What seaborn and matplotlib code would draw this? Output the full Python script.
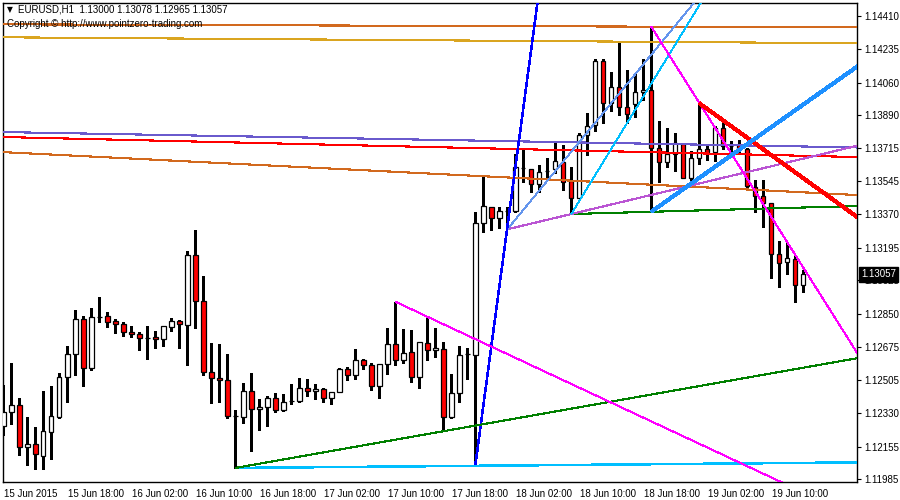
import numpy as np
import pandas as pd
import matplotlib
matplotlib.use('Agg')
import matplotlib.pyplot as plt
import matplotlib.transforms as mtransforms
import seaborn as sns

# EURUSD H1 candles, 15 Jun 10:00 .. 19 Jun 14:00
opens = [1.12264, 1.12334, 1.12372, 1.12154, 1.12168, 1.12107, 1.12233, 1.12311, 1.12517, 1.12638,
         1.12823, 1.12565, 1.12835, 1.12837, 1.12812, 1.12795, 1.12753, 1.12743, 1.12725, 1.12728,
         1.12716, 1.12779, 1.12811, 1.12790, 1.13156, 1.12915, 1.12544, 1.12514, 1.12502, 1.12316,
         1.12312, 1.12444, 1.12350, 1.12360, 1.12407, 1.12345, 1.12392, 1.12392, 1.12460, 1.12444,
         1.12455, 1.12407, 1.12439, 1.12559, 1.12528, 1.12606, 1.12580, 1.12470, 1.12585, 1.12690,
         1.12606, 1.12648, 1.12517, 1.12695, 1.12659, 1.12664, 1.12312, 1.12434, 1.12637, 1.12633,
         1.13323, 1.13407, 1.13350, 1.13389, 1.13389, 1.13614, 1.13609, 1.13528, 1.13599, 1.13606,
         1.13643, 1.13545, 1.13454, 1.13786, 1.13836, 1.14171, 1.13952, 1.14035, 1.13931, 1.13946,
         1.14009, 1.14021, 1.13716, 1.13646, 1.13685, 1.13739, 1.13562, 1.13664, 1.13711, 1.13698,
         1.13821, 1.13728, 1.13732, 1.13711, 1.13515, 1.13466, 1.13428, 1.13161, 1.13119, 1.13135,
         1.13000]
highs = [1.12477, 1.12591, 1.12407, 1.12311, 1.12256, 1.12446, 1.12473, 1.12542, 1.12681, 1.12870,
         1.12838, 1.12879, 1.12936, 1.12859, 1.12823, 1.12805, 1.12786, 1.12753, 1.12786, 1.12760,
         1.12786, 1.12826, 1.12817, 1.13176, 1.13288, 1.13048, 1.12697, 1.12692, 1.12639, 1.12345,
         1.12486, 1.12538, 1.12404, 1.12420, 1.12434, 1.12432, 1.12481, 1.12514, 1.12509, 1.12482,
         1.12460, 1.12439, 1.12565, 1.12570, 1.12666, 1.12613, 1.12591, 1.12585, 1.12774, 1.12913,
         1.12769, 1.12763, 1.12701, 1.12838, 1.12774, 1.12700, 1.12534, 1.12681, 1.12669, 1.13384,
         1.13574, 1.13407, 1.13407, 1.13409, 1.13686, 1.13711, 1.13609, 1.13627, 1.13664, 1.13742,
         1.13733, 1.13617, 1.13794, 1.13902, 1.14185, 1.14183, 1.14117, 1.14272, 1.14126, 1.14109,
         1.14185, 1.14352, 1.13859, 1.13822, 1.13798, 1.13745, 1.13702, 1.13952, 1.13733, 1.13833,
         1.13855, 1.13754, 1.13759, 1.13716, 1.13550, 1.13550, 1.13428, 1.13231, 1.13227, 1.13152,
         1.13078]
lows = [1.12215, 1.12271, 1.12111, 1.12058, 1.12036, 1.12039, 1.12090, 1.12304, 1.12388, 1.12529,
        1.12473, 1.12556, 1.12808, 1.12782, 1.12751, 1.12735, 1.12730, 1.12660, 1.12615, 1.12672,
        1.12681, 1.12761, 1.12673, 1.12583, 1.12777, 1.12531, 1.12385, 1.12390, 1.12303, 1.12043,
        1.12276, 1.12133, 1.12243, 1.12264, 1.12334, 1.12339, 1.12378, 1.12387, 1.12420, 1.12402,
        1.12387, 1.12376, 1.12439, 1.12502, 1.12507, 1.12559, 1.12449, 1.12407, 1.12535, 1.12580,
        1.12591, 1.12491, 1.12460, 1.12606, 1.12625, 1.12238, 1.12303, 1.12386, 1.12509, 1.12056,
        1.13278, 1.13288, 1.13299, 1.13292, 1.13383, 1.13541, 1.13489, 1.13489, 1.13550, 1.13585,
        1.13496, 1.13372, 1.13454, 1.13681, 1.13807, 1.13847, 1.13911, 1.13890, 1.13847, 1.13878,
        1.13969, 1.13384, 1.13541, 1.13620, 1.13597, 1.13562, 1.13529, 1.13634, 1.13655, 1.13650,
        1.13711, 1.13690, 1.13686, 1.13515, 1.13384, 1.13306, 1.13039, 1.12989, 1.13057, 1.12910,
        1.12965]
closes = [1.12334, 1.12372, 1.12154, 1.12168, 1.12114, 1.12236, 1.12315, 1.12519, 1.12638, 1.12823,
          1.12565, 1.12832, 1.12835, 1.12805, 1.12795, 1.12753, 1.12743, 1.12722, 1.12725, 1.12716,
          1.12784, 1.12811, 1.12795, 1.13156, 1.12915, 1.12544, 1.12512, 1.12502, 1.12316, 1.12316,
          1.12444, 1.12350, 1.12360, 1.12407, 1.12345, 1.12387, 1.12392, 1.12460, 1.12444, 1.12455,
          1.12407, 1.12439, 1.12559, 1.12528, 1.12606, 1.12580, 1.12470, 1.12585, 1.12690, 1.12606,
          1.12643, 1.12517, 1.12701, 1.12659, 1.12669, 1.12312, 1.12434, 1.12633, 1.12637, 1.13323,
          1.13412, 1.13350, 1.13386, 1.13389, 1.13617, 1.13614, 1.13528, 1.13594, 1.13599, 1.13648,
          1.13541, 1.13454, 1.13786, 1.13831, 1.14171, 1.13952, 1.14035, 1.13931, 1.13894, 1.14009,
          1.14021, 1.13716, 1.13646, 1.13685, 1.13742, 1.13562, 1.13664, 1.13711, 1.13698, 1.13821,
          1.13728, 1.13728, 1.13711, 1.13519, 1.13466, 1.13428, 1.13161, 1.13114, 1.13140, 1.12999,
          1.13057]

price_ticks = [1.14410, 1.14235, 1.14060, 1.13890, 1.13715, 1.13545, 1.13370, 1.13195,
               1.13025, 1.12850, 1.12675, 1.12505, 1.12330, 1.12155, 1.11985]
tick_times = ['2015-06-15 10:00', '2015-06-15 18:00', '2015-06-16 02:00', '2015-06-16 10:00',
              '2015-06-16 18:00', '2015-06-17 02:00', '2015-06-17 10:00', '2015-06-17 18:00',
              '2015-06-18 02:00', '2015-06-18 10:00', '2015-06-18 18:00', '2015-06-19 02:00',
              '2015-06-19 10:00']
tick_labels = ['15 Jun 2015', '15 Jun 18:00', '16 Jun 02:00', '16 Jun 10:00', '16 Jun 18:00',
               '17 Jun 02:00', '17 Jun 10:00', '17 Jun 18:00', '18 Jun 02:00', '18 Jun 10:00',
               '18 Jun 18:00', '19 Jun 02:00', '19 Jun 10:00']

# trend lines: (bar1, price1, bar2, price2)
trend_anchors = [
    (0, 1.14365, 106, 1.14349),
    (0, 1.14297, 106, 1.14266),
    (0, 1.13801, 106, 1.13721),
    (0, 1.13775, 106, 1.13671),
    (0, 1.13696, 106, 1.13473),
    (71, 1.13372, 106.7, 1.13414),
    (63, 1.13292, 107.1, 1.13733),
    (63, 1.13292, 84.54, 1.14386),
    (71, 1.13372, 84.59, 1.14300),
    (59, 1.12056, 66.75, 1.14471),
    (29, 1.12043, 106.7, 1.12072),
    (29, 1.12043, 106.7, 1.12617),
    (49, 1.12913, 67.09, 1.12559),
    (81, 1.14352, 103.34, 1.12870),
    (87, 1.13952, 106.68, 1.13358),
    (81, 1.13384, 106.7, 1.14143),
]
trend_colors = ['#D2691E', '#DAA520', '#6A5ACD', '#FF0000', '#D2691E', '#008000', '#BA55D3',
                '#6495ED', '#00BFFF', '#0000FF', '#00BFFF', '#008000', '#FF00FF', '#FF00FF',
                '#FF0000', '#1E90FF']
trend_widths = [0.8, 0.8, 0.8, 0.8, 0.8, 0.8, 0.8, 0.6, 0.6, 1.1, 1.1, 0.8, 0.7, 0.7, 2.2, 2.2]
trend_full = [True] * 5 + [False] * 11

sns.set_theme(style="white")
plt.rcParams['font.family'] = ['Liberation Sans Narrow', 'Liberation Sans', 'DejaVu Sans']

bar_times = pd.date_range('2015-06-15 10:00', periods=len(opens), freq='h')
df = pd.DataFrame({'time': bar_times, 'open': opens, 'high': highs, 'low': lows, 'close': closes})
df['x'] = np.arange(len(df))

fig = plt.figure(figsize=(9, 5), dpi=100)
ax = fig.add_axes([2.7 / 900, 18 / 500, 854.6 / 900, 479.3 / 500])
ax.set_facecolor('white')

x_left, x_right = -0.075, 106.75
ax.set_xlim(x_left, x_right)
ax.set_ylim(1.119694, 1.144781)

# candles
up = df['close'] >= df['open']
ax.vlines(df['x'], df['low'], df['high'], color='black', lw=1.0, zorder=2, antialiased=False)
body_lo = df[['open', 'close']].min(axis=1)
body_h = (df['close'] - df['open']).abs()
ax.bar(df['x'], body_h, bottom=body_lo, width=0.55, color=np.where(up, 'white', 'red'),
       edgecolor='black', linewidth=0.9, zorder=3)

# trend lines
for (b1, p1, b2, p2), col, lw, full in zip(trend_anchors, trend_colors, trend_widths, trend_full):
    slope = (p2 - p1) / (b2 - b1)
    xs = [x_left - 1 if full else b1, x_right + 1]
    ys = [p1 + slope * (x - b1) for x in xs]
    ax.plot(xs, ys, color=col, lw=lw, zorder=4, antialiased=False, solid_capstyle='butt')

# axes / ticks
ax.yaxis.tick_right()
ax.set_yticks(price_ticks)
ax.set_yticklabels([f'{v:.5f}' for v in price_ticks])
tick_pos = [bar_times.get_loc(pd.Timestamp(t)) for t in tick_times]
ax.set_xticks(tick_pos)
ax.set_xticklabels(tick_labels)
ax.tick_params(axis='both', direction='out', length=3, width=0.8, color='black',
               labelsize=7, labelcolor='black')
ax.tick_params(axis='y', pad=2)
ax.tick_params(axis='x', pad=2)
offset = mtransforms.ScaledTranslation(1 / 100, 0, fig.dpi_scale_trans)
for lab in ax.get_xticklabels():
    lab.set_horizontalalignment('left')
    lab.set_transform(lab.get_transform() + offset)
for sp in ax.spines.values():
    sp.set_visible(True)
    sp.set_color('black')
    sp.set_linewidth(1.0)
ax.grid(False)

# current price box
trans = mtransforms.blended_transform_factory(ax.transAxes, ax.transData)
ax.text(1.0043, closes[-1], f'{closes[-1]:.5f}', transform=trans, color='white', fontsize=7,
        va='center', ha='left', clip_on=False, zorder=10,
        bbox=dict(boxstyle='square,pad=0.25', fc='black', ec='black'))

# header
fig.text(6.5 / 900, 1 - 10 / 500, '\u25bc', fontsize=5.5, va='center', ha='left',
         family=['DejaVu Sans'], color='black')
fig.text(18 / 900, 1 - 10 / 500,
         f'EURUSD,H1  {opens[-1]:.5f} {highs[-1]:.5f} {lows[-1]:.5f} {closes[-1]:.5f}',
         fontsize=7, va='center', ha='left', color='black')
fig.text(7 / 900, 1 - 24 / 500, 'Copyright \u00a9 http://www.pointzero-trading.com',
         fontsize=7, va='center', ha='left', color='black')

fig.savefig('out.png', dpi=100, facecolor='white')
